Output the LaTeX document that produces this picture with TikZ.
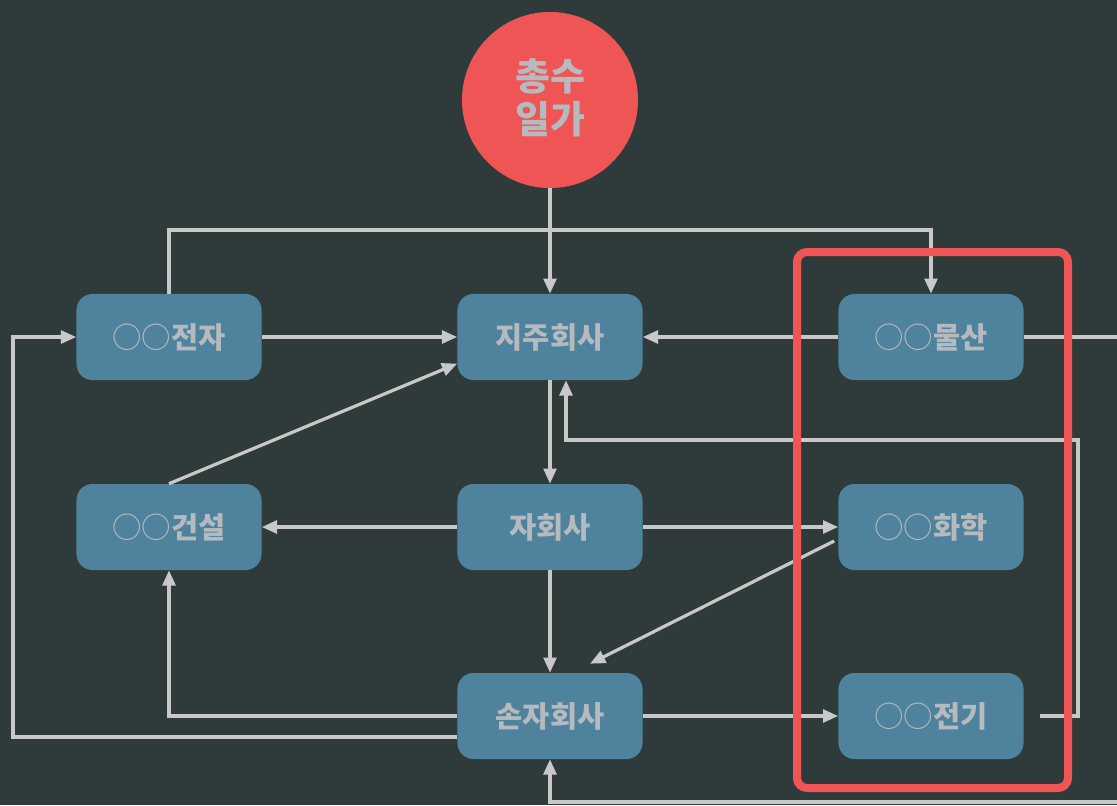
\documentclass[tikz,border=0pt]{standalone}
\usepackage{fontspec}
\newfontfamily\krfont{Noto Sans CJK KR}
\usetikzlibrary{arrows.meta,calc}
\definecolor{bgdark}{RGB}{47,59,58}
\definecolor{boxblue}{RGB}{78,130,157}
\definecolor{hubred}{RGB}{240,85,85}
\definecolor{txtgray}{RGB}{180,186,190}
\definecolor{linegray}{RGB}{200,200,200}
\newcommand{\oo}{{\mdseries ○○}}

\begin{document}
\begin{tikzpicture}[x=0.025cm,y=-0.025cm,
  firm/.style={fill=boxblue,rounded corners=0.4cm,minimum width=4.625cm,minimum height=2.15cm,
    text=txtgray,font=\krfont\bfseries\fontsize{21}{24}\selectfont},
  owner/.style={circle,fill=hubred,minimum size=4.4cm,inner sep=0pt,align=center,
    text=txtgray,font=\krfont\bfseries\fontsize{27}{35}\selectfont},
  link/.style={linegray,line width=2.3pt,-{Triangle[length=0.38cm,width=0.32cm]}},
  group/.style={hubred,line width=5.7pt,rounded corners=0.25cm}]
\fill[bgdark] (0,0) rectangle (1117,805);
\clip (0,0) rectangle (1117,805);

\node[owner] (chongsu) at (550,100) {\raisebox{6pt}{\shortstack{총수\\[2pt]일가}}};
\node[firm] (jeonja) at (169,337) {\oo 전자};
\node[firm] (jiju) at (550,337) {지주회사};
\node[firm] (mulsan) at (931,337) {\oo 물산};
\node[firm] (geonseol) at (169,527) {\oo 건설};
\node[firm] (jahoesa) at (550,527) {자회사};
\node[firm] (hwahak) at (931,527) {\oo 화학};
\node[firm] (sonja) at (550,716) {손자회사};
\node[firm] (jeongi) at (931,716) {\oo 전기};
\coordinate (rail) at (1125,802);

\draw[link] (chongsu) -- (jiju);
\draw[link] (jeonja.north) -- (169,230) -| (mulsan.north);
\draw[link] (jeonja) -- (jiju);
\draw[link] (mulsan) -- (jiju);
\draw[link] (mulsan.east) -| (rail) -| (sonja.south);
\draw[link] (jiju) -- (jahoesa);
\draw[link] (geonseol.north) -- (jiju.196);
\draw[link] (jahoesa) -- (geonseol);
\draw[link] (jahoesa) -- (hwahak);
\draw[link] ($(hwahak.west)+(-4,14)$) -- ($(sonja.north)+(40,-9)$);
\draw[link] (jahoesa) -- (sonja);
\draw[link] (sonja.west) -| (geonseol.south);
\draw[link] ($(sonja.west)+(0,21)$) -| (13,337) -- (jeonja.west);
\draw[link] (sonja) -- (jeongi);
\draw[link] ($(jeongi.east)+(16,0)$) -| (1078,440) -| ($(jiju.south)+(16,0)$);

\draw[group] (797,252) rectangle (1068,788);
\end{tikzpicture}
\end{document}
